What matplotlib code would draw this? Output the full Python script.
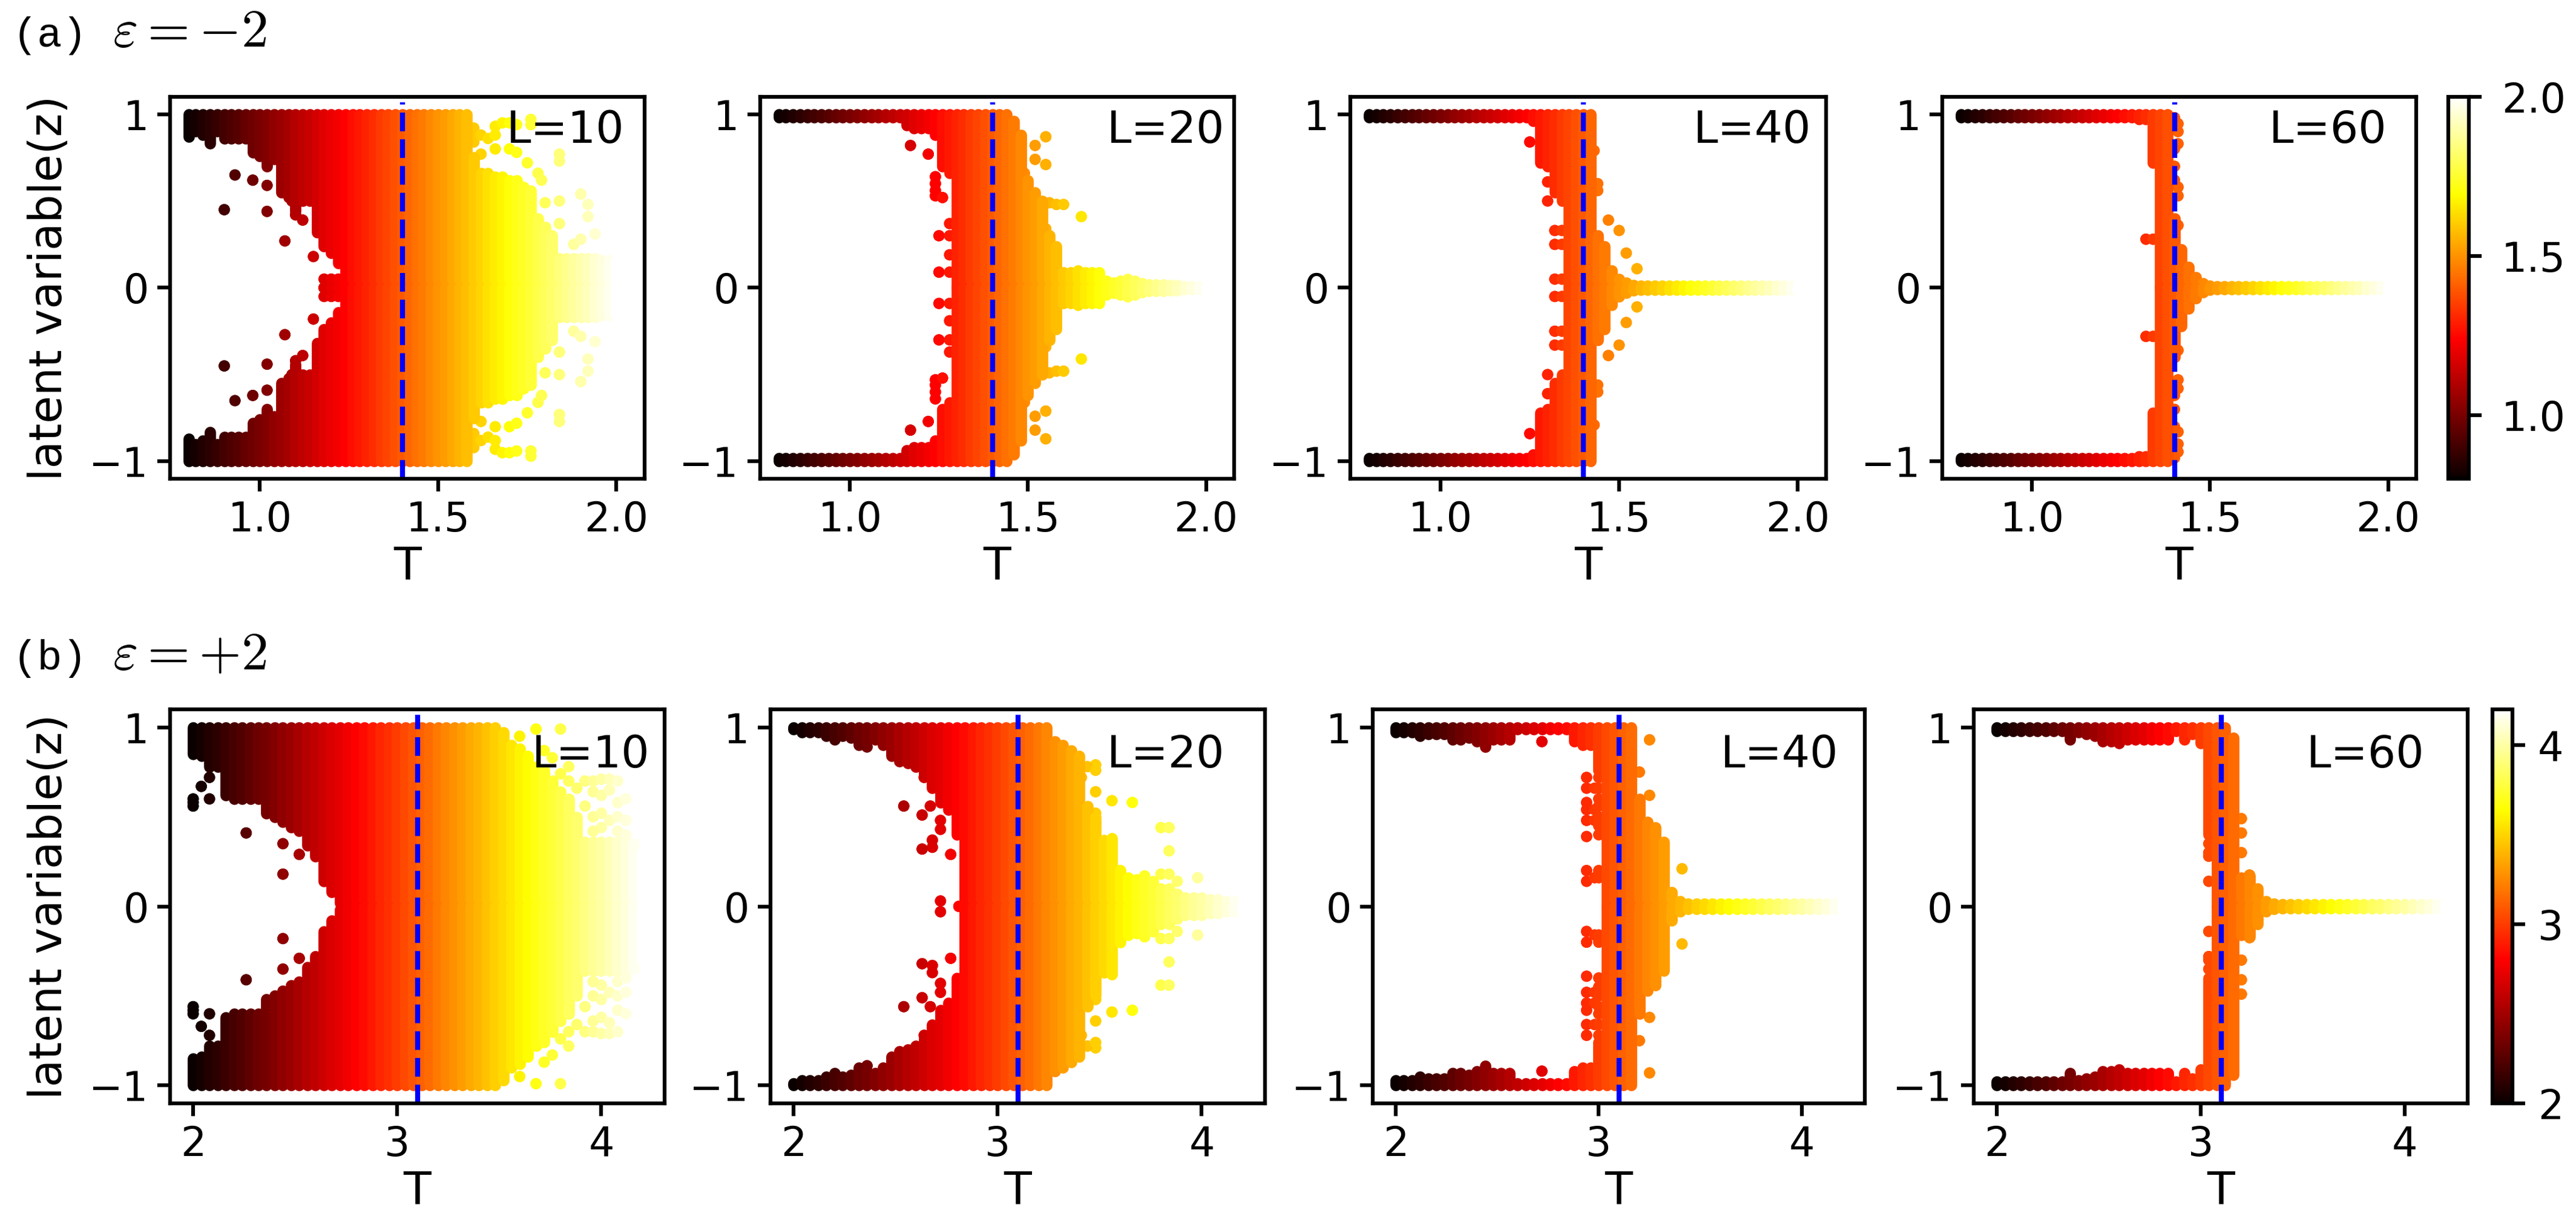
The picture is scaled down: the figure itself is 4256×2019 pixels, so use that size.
import matplotlib
matplotlib.use('Agg')
import matplotlib.pyplot as plt
from matplotlib.colors import Normalize

plt.rcParams['mathtext.fontset'] = 'cm'

W, H = 4256, 2019

# temperature columns, one list per row of panels
T_a = [0.80, 0.82, 0.84, 0.86, 0.88, 0.90, 0.92, 0.94, 0.96, 0.98,
       1.00, 1.02, 1.04, 1.06, 1.08, 1.10, 1.12, 1.14, 1.16, 1.18,
       1.20, 1.22, 1.24, 1.26, 1.28, 1.30, 1.32, 1.34, 1.36, 1.38,
       1.40, 1.42, 1.44, 1.46, 1.48, 1.50, 1.52, 1.54, 1.56, 1.58,
       1.60, 1.62, 1.64, 1.66, 1.68, 1.70, 1.72, 1.74, 1.76, 1.78,
       1.80, 1.82, 1.84, 1.86, 1.88, 1.90, 1.92, 1.94, 1.96, 1.98,
       2.00]
T_b = [2.00, 2.04, 2.08, 2.12, 2.16, 2.20, 2.24, 2.28, 2.32, 2.36,
       2.40, 2.44, 2.48, 2.52, 2.56, 2.60, 2.64, 2.68, 2.72, 2.76,
       2.80, 2.84, 2.88, 2.92, 2.96, 3.00, 3.04, 3.08, 3.12, 3.16,
       3.20, 3.24, 3.28, 3.32, 3.36, 3.40, 3.44, 3.48, 3.52, 3.56,
       3.60, 3.64, 3.68, 3.72, 3.76, 3.80, 3.84, 3.88, 3.92, 3.96,
       4.00, 4.04, 4.08, 4.12, 4.16, 4.20]

# upper half of each panel: z range filled in each column, mirrored when drawn
a10_in = [.87, .90, .88, .83, .90, .86, .86, .86, .86, .78,
          .76, .70, .74, .55, .52, .44, .50, .50, .32, .24,
          .20, .14, 0, 0, 0, 0, 0, 0, 0, 0,
          0, 0, 0, 0, 0, 0, 0, 0, 0, 0,
          0, 0, 0, 0, 0, 0, 0, 0, 0, 0,
          0, 0, 0, 0, 0, 0, 0, 0, 0, 0,
          0]
a10_out = [1, 1, 1, 1, 1, 1, 1, 1, 1, 1,
           1, 1, 1, 1, 1, 1, 1, 1, 1, 1,
           1, 1, 1, 1, 1, 1, 1, 1, 1, 1,
           1, 1, 1, 1, 1, 1, 1, 1, 1, 1,
           .75, .66, .66, .64, .64, .62, .62, .58, .56, .40,
           .35, .30, .17, .17, .17, .17, .17, .17, .16, .16,
           .15]
a10_dot_T = [.93, .90, 1.02, 1.07, 1.15, .98, 1.02, 1.09, 1.10, 1.12, 1.18, 1.20, 1.22, 1.18, 1.20, 1.22,
             1.66, 1.68, 1.70, 1.72, 1.76, 1.76, 1.84, 1.84, 1.80, 1.84, 1.90, 1.92, 1.92, 1.94, 1.88, 1.90, 1.84,
             1.60, 1.60, 1.60, 1.62, 1.64, 1.66, 1.62, 1.66, 1.70, 1.72, 1.75, 1.78, 1.79]
a10_dot_z = [.65, .45, .44, .27, .18, .62, .59, .50, .42, .39, 0, 0, 0, .05, .05, .05,
             .93, .95, .95, .94, .97, .94, .77, .73, .49, .50, .54, .48, .41, .31, .25, .28, .37,
             .92, .88, .84, .88, .86, .88, .77, .80, .80, .78, .72, .66, .62]

a20_in = [.98, .98, .98, .98, .98, .98, .98, .98, .98, .98,
          .98, .98, .98, .98, .98, .98, .98, .98, .935, .92,
          .92, .92, .88, .70, .66, 0, 0, 0, 0, 0,
          0, 0, 0, 0, 0, 0, 0, 0, 0, 0,
          0, 0, 0, 0, 0, 0, 0, 0, 0, 0,
          0, 0, 0, 0, 0, 0, 0, 0, 0, 0,
          0]
a20_out = [1, 1, 1, 1, 1, 1, 1, 1, 1, 1,
           1, 1, 1, 1, 1, 1, 1, 1, 1, 1,
           1, 1, 1, 1, 1, 1, 1, 1, 1, 1,
           1, 1, 1, .96, .88, .62, .55, .50, .30, .24,
           .09, .09, .10, .09, .09, .09, .04, .03, .04, .05,
           .04, .025, .02, .02, .02, .015, .015, .01, .01, .01,
           .01]
a20_dot_T = [1.17, 1.22, 1.24, 1.24, 1.24, 1.24, 1.26, 1.25, 1.28, 1.28, 1.25, 1.28, 1.28,
             1.54, 1.56, 1.58, 1.60, 1.65, 1.55, 1.55, 1.52, 1.52, 1.49, 1.55, 1.55]
a20_dot_z = [.82, .77, .64, .60, .56, .53, .52, .30, .37, .19, .09, .09, .30,
             .49, .49, .48, .48, .41, .87, .71, .74, .82, .66, .34, .30]

a40_in = [.98, .98, .98, .98, .98, .98, .98, .98, .98, .98,
          .98, .98, .98, .98, .98, .98, .98, .98, .98, .98,
          .98, .98, .98, .96, .72, .70, .55, .50, 0, 0,
          0, 0, 0, 0, 0, 0, 0, 0, 0, 0,
          0, 0, 0, 0, 0, 0, 0, 0, 0, 0,
          0, 0, 0, 0, 0, 0, 0, 0, 0, 0,
          0]
a40_out = [1, 1, 1, 1, 1, 1, 1, 1, 1, 1,
           1, 1, 1, 1, 1, 1, 1, 1, 1, 1,
           1, 1, 1, 1, 1, 1, 1, 1, 1, 1,
           1, 1, .30, .24, .10, .05, .03, .015, .012, .012,
           .012, .012, .012, .012, .012, .012, .012, .012, .012, .012,
           .012, .012, .012, .012, .012, .012, .012, .012, .012, .012,
           .012]
a40_dot_T = [1.25, 1.30, 1.30, 1.32, 1.32, 1.32, 1.34, 1.34, 1.34, 1.43, 1.44, 1.44, 1.47, 1.50, 1.52, 1.55]
a40_dot_z = [.84, .61, .50, .33, .25, .05, .33, .25, .05, .79, .60, .56, .39, .33, .20, .11]

a60_in = [.98, .98, .98, .98, .98, .98, .98, .98, .98, .98,
          .98, .98, .98, .98, .98, .98, .98, .98, .98, .98,
          .98, .98, .98, .98, .98, .97, .97, .72, 0, 0,
          0, 0, 0, 0, 0, 0, 0, 0, 0, 0,
          0, 0, 0, 0, 0, 0, 0, 0, 0, 0,
          0, 0, 0, 0, 0, 0, 0, 0, 0, 0,
          0]
a60_out = [1, 1, 1, 1, 1, 1, 1, 1, 1, 1,
           1, 1, 1, 1, 1, 1, 1, 1, 1, 1,
           1, 1, 1, 1, 1, 1, 1, 1, 1, 1,
           .40, .22, .12, .06, .025, .012, .01, .01, .01, .01,
           .01, .01, .01, .01, .01, .01, .01, .01, .01, .01,
           .01, .01, .01, .01, .01, .01, .01, .01, .01, .01,
           .01]
a60_dot_T = [1.32, 1.34, 1.41, 1.41, 1.41, 1.41, 1.41, 1.41, 1.40, 1.40, 1.40, 1.40]
a60_dot_z = [.28, .28, .945, .90, .83, .58, .53, .36, .98, .80, .70, .62]

b10_in = [.85, .84, .78, .78, .62, .60, .60, .60, .60, .52,
          .50, .47, .44, .42, .34, .28, .14, .08, .02, 0,
          0, 0, 0, 0, 0, 0, 0, 0, 0, 0,
          0, 0, 0, 0, 0, 0, 0, 0, 0, 0,
          0, 0, 0, 0, 0, 0, 0, 0, 0, 0,
          0, 0, 0, 0, 0, 0]
b10_out = [1, 1, 1, 1, 1, 1, 1, 1, 1, 1,
           1, 1, 1, 1, 1, 1, 1, 1, 1, 1,
           1, 1, 1, 1, 1, 1, 1, 1, 1, 1,
           1, 1, 1, 1, 1, 1, 1, 1, .97, .90,
           .88, .84, .78, .76, .70, .64, .60, .50, .36, .36,
           .36, .36, .36, .36, .35, .30]
b10_dot_T = [2.0, 2.0, 2.0, 2.04, 2.08, 2.08, 2.26, 2.44, 2.44, 2.52,
             3.68, 3.80, 3.60, 3.84, 3.76, 3.72,
             3.92, 3.96, 4.00, 4.04, 4.08, 3.96, 4.00, 4.04, 4.08, 4.12,
             3.92, 3.96, 4.00, 4.04, 4.08, 4.12, 4.00, 4.08, 4.12, 3.96, 3.84, 3.88, 3.80]
b10_dot_z = [.60, .58, .56, .67, .60, .72, .41, .18, .35, .29,
             .99, .99, .95, .78, .83, .87,
             .70, .70, .71, .71, .70, .64, .62, .65, .58, .60,
             .56, .50, .52, .48, .50, .48, .44, .42, .40, .42, .70, .66, .74]

b20_in = [.99, .97, .97, .97, .95, .93, .95, .94, .90, .92,
          .93, .90, .84, .81, .80, .78, .74, .66, .58, .54,
          .40, 0, 0, 0, 0, 0, 0, 0, 0, 0,
          0, 0, 0, 0, 0, 0, 0, 0, 0, 0,
          0, 0, 0, 0, 0, 0, 0, 0, 0, 0,
          0, 0, 0, 0, 0, 0]
b20_out = [1, 1, 1, 1, 1, 1, 1, 1, 1, 1,
           1, 1, 1, 1, 1, 1, 1, 1, 1, 1,
           1, 1, 1, 1, 1, 1, 1, 1, 1, 1,
           1, 1, .92, .90, .87, .84, .56, .50, .37, .38,
           .20, .16, .15, .15, .14, .10, .10, .07, .05, .05,
           .05, .04, .04, .03, .03, .02]
b20_dot_T = [2.36, 2.54, 2.63, 2.67, 2.72, 2.72, 2.68, 2.68, 2.63, 2.77, 2.72, 2.81, 2.64,
             3.56, 3.66, 3.48, 3.48, 3.44, 3.48, 3.41, 3.48, 3.48, 3.80, 3.84, 3.84, 3.80, 3.84, 3.88, 3.98, 3.60, 3.72]
b20_dot_z = [.89, .56, .51, .56, .48, .43, .37, .33, .32, .29, .03, 0, .72,
             .59, .58, .64, .79, .78, .76, .72, .52, .47, .44, .44, .31, .18, .18, .14, .16, .20, .17]

b40_in = [.97, .97, .97, .95, .96, .96, .96, .93, .93, .94,
          .92, .89, .93, .93, .93, .99, .99, .99, .99, .99,
          .99, .99, .92, .90, .90, .76, 0, 0, 0, 0,
          0, 0, 0, 0, 0, 0, 0, 0, 0, 0,
          0, 0, 0, 0, 0, 0, 0, 0, 0, 0,
          0, 0, 0, 0, 0, 0]
b40_out = [1, 1, 1, 1, 1, 1, 1, 1, 1, 1,
           1, 1, 1, 1, 1, 1, 1, 1, 1, 1,
           1, 1, 1, 1, 1, 1, 1, 1, 1, 1,
           .60, .47, .44, .36, .08, .03, .015, .015, .015, .015,
           .015, .015, .015, .015, .015, .015, .015, .015, .015, .015,
           .015, .015, .015, .015, .015, .015]
b40_dot_T = [2.72, 2.94, 2.94, 2.94, 2.94, 2.94, 2.94, 2.94, 2.94, 2.98, 2.98, 2.98, 2.98,
             3.00, 3.00, 3.00, 3.00, 3.00, 3.00, 3.00, 3.00, 3.00,
             3.25, 3.25, 3.20, 3.41, 3.32]
b40_dot_z = [.92, .72, .66, .58, .54, .48, .39, .20, .14, .66, .54, .48, .16,
             .72, .66, .60, .56, .50, .45, .40, .20, .16,
             .93, .62, .75, .21, .16]

b60_in = [.98, .98, .98, .98, .98, .98, .98, .98, .98, .93,
          .97, .96, .95, .92, .92, .91, .93, .93, .93, .93,
          .93, .93, .98, .93, .96, .91, .40, 0, 0, 0,
          0, 0, 0, 0, 0, 0, 0, 0, 0, 0,
          0, 0, 0, 0, 0, 0, 0, 0, 0, 0,
          0, 0, 0, 0, 0, 0]
b60_out = [1, 1, 1, 1, 1, 1, 1, 1, 1, 1,
           1, 1, 1, 1, 1, 1, 1, 1, 1, 1,
           1, 1, 1, 1, 1, 1, 1, 1, 1, .94,
           .16, .17, .10, .03, .015, .012, .012, .012, .012, .012,
           .012, .012, .012, .012, .012, .012, .012, .012, .012, .012,
           .012, .012, .012, .012, .012, .012]
b60_dot_T = [3.04, 3.04, 3.04, 3.04, 3.20, 3.20, 3.20, 3.24]
b60_dot_z = [.35, .30, .28, .14, .49, .41, .30, .175]

sizes = ['L=10', 'L=20', 'L=40', 'L=60']
T_c = [1.4, 3.1]
ticks_x = [[1.0, 1.5, 2.0], [2, 3, 4]]
cbar_range = [(0.8, 2.0), (2.0, 4.2)]
xlims = [(0.748, 2.079), (1.887, 4.31)]
row_T = [T_a, T_b]
row_tag = ['(a)', '(b)']
row_eps = [r'$\varepsilon=-2$', r'$\varepsilon=+2$']
row_panels = [
    [(a10_in, a10_out, a10_dot_T, a10_dot_z), (a20_in, a20_out, a20_dot_T, a20_dot_z),
     (a40_in, a40_out, a40_dot_T, a40_dot_z), (a60_in, a60_out, a60_dot_T, a60_dot_z)],
    [(b10_in, b10_out, b10_dot_T, b10_dot_z), (b20_in, b20_out, b20_dot_T, b20_dot_z),
     (b40_in, b40_out, b40_dot_T, b40_dot_z), (b60_in, b60_out, b60_dot_T, b60_dot_z)],
]

# axes boxes in pixels of the reference
row_y = [(160, 791), (1172, 1823)]
row_x = [[(281, 1065), (1256, 2039), (2231, 3017), (3209, 3992)],
         [(281, 1098), (1273, 2090), (2268, 3081), (3261, 4077)]]
cbar_x = [(4045, 4079), (4118, 4151)]
cbar_pad = [8, 5]
label_right = [[1032, 2023, 2992, 3943], [1074, 2023, 3037, 4005]]
label_base = [236, 1268]
tag_base = [77, 1106]

fig = plt.figure(figsize=(W / 300, H / 300), dpi=300)


def box(x, y):
    return [x[0] / W, 1 - y[1] / H, (x[1] - x[0]) / W, (y[1] - y[0]) / H]


for r in range(2):
    norm = Normalize(*cbar_range[r])
    T = row_T[r]
    for c in range(4):
        z_in, z_out, dot_T, dot_z = row_panels[r][c]
        ax = fig.add_axes(box(row_x[r][c], row_y[r]))
        for sign in [1, -1]:
            lc = ax.vlines(T, [sign * v for v in z_in], [sign * v for v in z_out],
                           linewidth=4.5, capstyle='round', cmap='hot', norm=norm)
            lc.set_array(T)
            ax.scatter(dot_T + dot_T, dot_z + [-v for v in dot_z], c=dot_T + dot_T,
                       cmap='hot', norm=norm, s=20, linewidths=0)
        ax.plot([T_c[r], T_c[r]], [-1.1, 1.07], '--', color='blue', lw=2)
        ax.set_xlim(xlims[r])
        ax.set_ylim(-1.1, 1.1)
        ax.set_xticks(ticks_x[r])
        ax.set_yticks([-1, 0, 1])
        ax.tick_params(labelsize=16, length=5, width=1.5)
        for s in ax.spines.values():
            s.set_linewidth(1.5)
        ax.set_xlabel('T', fontsize=18, labelpad=2)
        if c == 0:
            ax.set_ylabel('latent variable(z)', fontsize=17.8, labelpad=7)
        fig.text(label_right[r][c] / W, 1 - label_base[r] / H, sizes[c],
                 fontsize=17.5, ha='right', va='baseline')

    cax = fig.add_axes(box(cbar_x[r], row_y[r]))
    cb = fig.colorbar(lc, cax=cax, ticks=ticks_x[r])
    cb.ax.tick_params(labelsize=16, length=5, width=1.5, pad=cbar_pad[r])
    cb.outline.set_linewidth(1.5)

    fig.text(21 / W, 1 - tag_base[r] / H, row_tag[r], fontsize=16.5,
             family='Liberation Mono', va='baseline')
    fig.text(186 / W, 1 - tag_base[r] / H, row_eps[r], fontsize=21.5, va='baseline')

fig.savefig('out.png', dpi=300)
